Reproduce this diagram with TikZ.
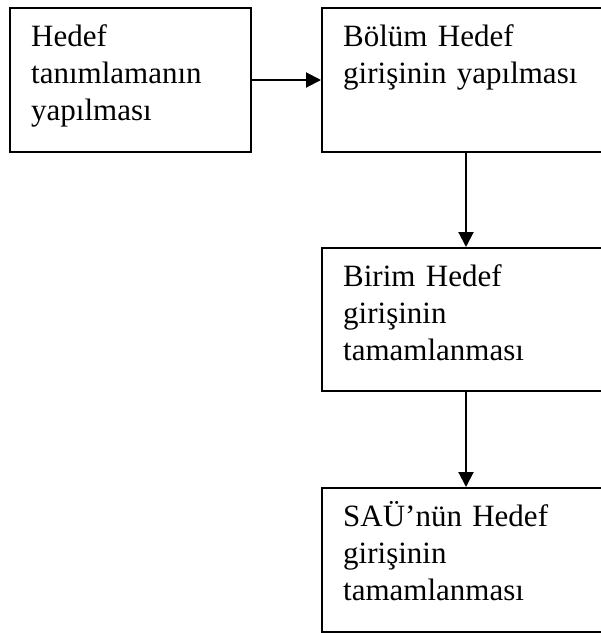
\documentclass[tikz,border=0pt]{standalone}
\usepackage{fontspec}
\setmainfont{Liberation Serif}
\usetikzlibrary{arrows.meta}
\tikzset{
  box/.style={draw=black, line width=2pt, rectangle, inner sep=0pt, anchor=north west},
  label/.style={anchor=base west, inner sep=0pt, text width=280pt, align=left,
    font=\fontsize{31}{37}\selectfont},
  conn/.style={line width=2pt, -{Triangle[length=15pt,width=15pt]}}
}
\begin{document}
\begin{tikzpicture}[x=1pt,y=-1pt]
\useasboundingbox (0,0) rectangle (601,633);
\node[box, minimum width=241pt, minimum height=144pt] (b1) at (9,7) {};
\node[box, minimum width=288pt, minimum height=144pt] (b2) at (321,7) {};
\node[box, minimum width=288pt, minimum height=143pt] (b3) at (321,247) {};
\node[box, minimum width=288pt, minimum height=144pt] (b4) at (321,487) {};
\node[label] (t1) at (31,46) {Hedef\\tanımlamanın\\yapılması};
\node[label] (t2) at (343,46) {Bölüm Hedef\\girişinin yapılması};
\node[label] (t3) at (343,286) {Birim Hedef\\girişinin\\tamamlanması};
\node[label] (t4) at (343,526) {SAÜ’nün Hedef\\girişinin\\tamamlanması};
\draw[conn] (b1.east) -- (b2.west);
\draw[conn] (b2.south) -- (b3.north);
\draw[conn] (b3.south) -- (b4.north);
\end{tikzpicture}
\end{document}
